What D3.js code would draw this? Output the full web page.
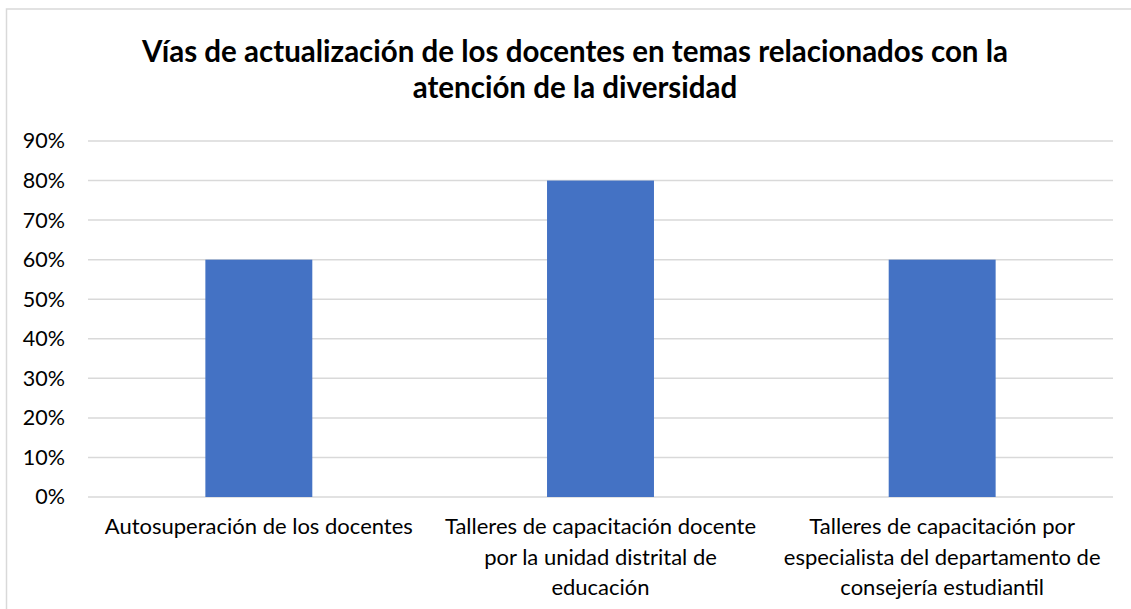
<!DOCTYPE html>
<html lang="es">
<head>
    <meta charset="UTF-8">
    <title>Vías de actualización de los docentes</title>
    <script src="https://d3js.org/d3.v7.min.js"></script>
    <style>
        body {
            margin: 0;
            background: #fff;
        }
        svg text {
            font-family: Lato, "Open Sans", sans-serif;
            fill: #000;
        }
        .grid line {
            stroke: #d9d9d9;
            stroke-width: 1.5;
        }
    </style>
</head>
<body>
    <svg id="chart" width="1131" height="609"></svg>

    <script>
        // chart data
        const categories = [
            "Autosuperación de los docentes",
            "Talleres de capacitación docente por la unidad distrital de educación",
            "Talleres de capacitación por especialista del departamento de consejería estudiantil"
        ];
        const categoryLines = [
            ["Autosuperación de los docentes"],
            ["Talleres de capacitación docente", "por la unidad distrital de", "educación"],
            ["Talleres de capacitación por", "especialista del departamento de", "consejería estudiantil"]
        ];
        const values = [0.6, 0.8, 0.6];
        const yTicks = [0, 0.1, 0.2, 0.3, 0.4, 0.5, 0.6, 0.7, 0.8, 0.9];
        const titleLines = [
            "Vías de actualización de los docentes en temas relacionados con la",
            "atención de la diversidad"
        ];

        const margin = { top: 141, right: 18, bottom: 112, left: 88 },
              W = 1131, H = 609;

        const svg = d3.select("#chart");

        // outer chart border
        svg.append("rect")
            .attr("x", 6.5)
            .attr("y", 9)
            .attr("width", W)
            .attr("height", H)
            .attr("fill", "none")
            .attr("stroke", "#d9d9d9")
            .attr("stroke-width", 1.5);

        const x = d3.scaleBand()
            .domain(categories)
            .range([margin.left, W - margin.right])
            .paddingInner(0.687)
            .paddingOuter(0.3435);

        const y = d3.scaleLinear()
            .domain([0, 0.9])
            .range([H - margin.bottom, margin.top]);

        // gridlines
        svg.append("g")
            .attr("class", "grid")
            .selectAll("line")
            .data(yTicks)
            .join("line")
            .attr("x1", margin.left)
            .attr("x2", W - margin.right)
            .attr("y1", d => y(d))
            .attr("y2", d => y(d));

        // y axis labels
        const yAxis = d3.axisLeft(y)
            .tickValues(yTicks)
            .tickFormat(d3.format(".0%"))
            .tickSize(0)
            .tickPadding(23);

        svg.append("g")
            .attr("transform", `translate(${margin.left},0)`)
            .call(yAxis)
            .call(g => g.select(".domain").remove())
            .selectAll("text")
            .style("font-size", "21.5px")
            .style("font-family", "Lato, sans-serif")
            .attr("fill", "#000");

        // bars
        svg.selectAll(".bar")
            .data(values)
            .join("rect")
            .attr("class", "bar")
            .attr("x", (d, i) => x(categories[i]))
            .attr("width", x.bandwidth())
            .attr("y", d => y(d))
            .attr("height", d => y(0) - y(d))
            .attr("fill", "#4472c4");

        // category labels
        const cat = svg.append("g")
            .selectAll("text")
            .data(categories)
            .join("text")
            .attr("text-anchor", "middle")
            .attr("x", d => x(d) + x.bandwidth() / 2)
            .attr("y", 534)
            .style("font-size", "22px");

        cat.selectAll("tspan")
            .data((d, i) => categoryLines[i])
            .join("tspan")
            .attr("x", function () { return d3.select(this.parentNode).attr("x"); })
            .attr("dy", (d, i) => i === 0 ? 0 : 30.5)
            .text(d => d);

        // title
        svg.append("text")
            .attr("text-anchor", "middle")
            .attr("x", 575)
            .attr("y", 62)
            .style("font-size", "29.5px")
            .style("font-weight", "bold")
            .selectAll("tspan")
            .data(titleLines)
            .join("tspan")
            .attr("x", 575)
            .attr("dy", (d, i) => i === 0 ? 0 : 35.5)
            .text(d => d);
    </script>
</body>
</html>
